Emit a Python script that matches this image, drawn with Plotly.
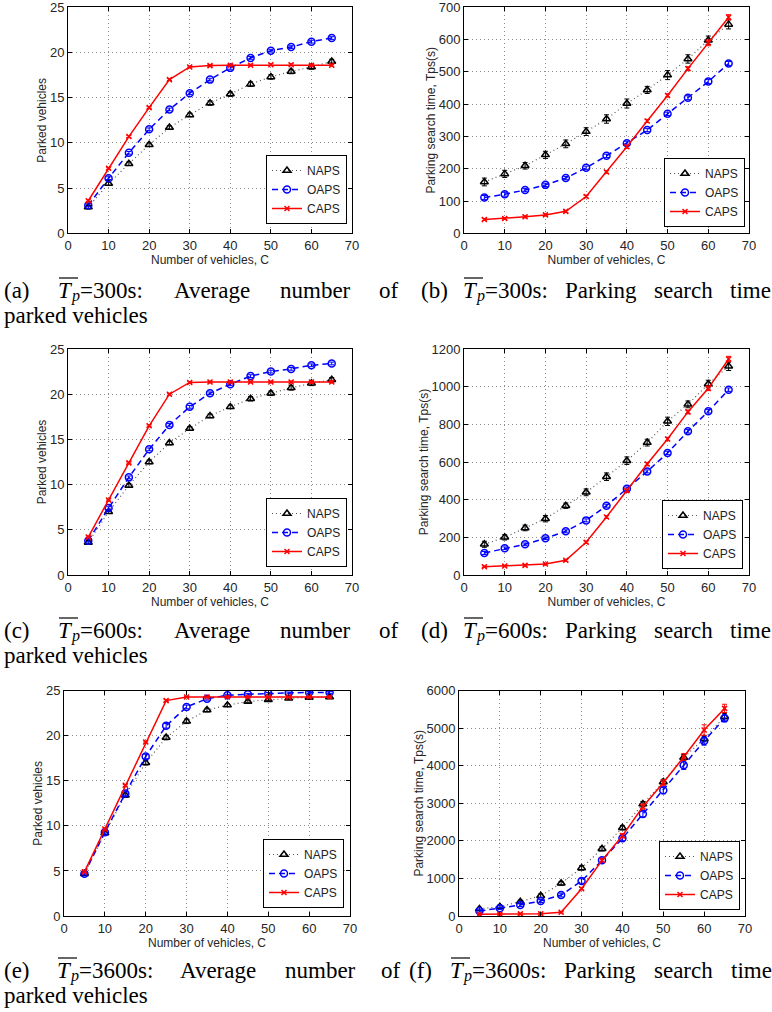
import plotly.graph_objects as go

# ---------------- data ----------------
C = [5, 10, 15, 20, 25, 30, 35, 40, 45, 50, 55, 60, 65]

a_naps = [2.9, 5.5, 7.7, 9.8, 11.7, 13.1, 14.4, 15.4, 16.5, 17.3, 17.9, 18.4, 19.0]
a_oaps = [3.1, 6.1, 8.9, 11.5, 13.7, 15.5, 17.0, 18.3, 19.4, 20.2, 20.6, 21.2, 21.6]
a_caps = [3.6, 7.2, 10.7, 13.9, 17.0, 18.4, 18.55, 18.6, 18.6, 18.65, 18.65, 18.6, 18.6]
a_naps_err = [0.2, 0.2, 0.2, 0.2, 0.2, 0.2, 0.25, 0.25, 0.25, 0.25, 0.25, 0.25, 0.25]
a_oaps_err = [0.15, 0.15, 0.15, 0.15, 0.15, 0.15, 0.15, 0.15, 0.15, 0.15, 0.15, 0.15, 0.15]
a_caps_err = [0.1, 0.1, 0.1, 0.1, 0.1, 0.1, 0.1, 0.1, 0.1, 0.1, 0.1, 0.1, 0.1]

b_naps = [159, 184, 209, 243, 277, 315, 354, 402, 444, 490, 540, 598, 647]
b_oaps = [111, 121, 134, 150, 171, 203, 240, 279, 320, 370, 420, 470, 526]
b_caps = [43, 46, 51, 57, 68, 114, 190, 268, 348, 427, 510, 590, 669]
b_naps_err = [12, 11, 10, 11, 12, 12, 13, 14, 11, 14, 13, 13, 14]
b_oaps_err = [6, 6, 5, 5, 5, 5, 5, 6, 5, 5, 6, 6, 6]
b_caps_err = [3, 3, 3, 3, 3, 4, 4, 5, 5, 5, 6, 9, 8]

c_naps = [3.6, 7.0, 9.9, 12.5, 14.6, 16.2, 17.6, 18.6, 19.5, 20.1, 20.7, 21.2, 21.6]
c_oaps = [3.8, 7.4, 10.8, 13.9, 16.6, 18.6, 20.1, 21.1, 22.0, 22.5, 22.8, 23.2, 23.4]
c_caps = [4.2, 8.3, 12.4, 16.5, 20.0, 21.3, 21.35, 21.35, 21.35, 21.35, 21.35, 21.35, 21.35]
c_naps_err = [0.2, 0.2, 0.2, 0.2, 0.2, 0.2, 0.2, 0.2, 0.25, 0.25, 0.25, 0.25, 0.25]
c_oaps_err = [0.15, 0.15, 0.15, 0.15, 0.15, 0.15, 0.15, 0.15, 0.15, 0.15, 0.15, 0.15, 0.15]
c_caps_err = [0.1, 0.1, 0.1, 0.1, 0.1, 0.1, 0.1, 0.1, 0.1, 0.1, 0.1, 0.1, 0.1]

d_naps = [163, 200, 250, 299, 368, 439, 522, 607, 703, 816, 906, 1014, 1108]
d_oaps = [117, 142, 163, 195, 232, 290, 368, 458, 550, 648, 763, 869, 984]
d_caps = [44, 48, 51, 58, 78, 174, 308, 448, 589, 722, 866, 991, 1147]
d_naps_err = [16, 14, 15, 17, 14, 18, 20, 20, 18, 22, 18, 20, 22]
d_oaps_err = [8, 7, 7, 7, 8, 8, 8, 9, 8, 9, 9, 9, 9]
d_caps_err = [4, 4, 4, 4, 5, 6, 7, 8, 9, 9, 10, 12, 14]

e_naps = [4.7, 9.2, 13.4, 17.0, 19.8, 21.6, 22.85, 23.4, 23.8, 24.0, 24.15, 24.25, 24.3]
e_oaps = [4.7, 9.3, 13.6, 17.7, 21.1, 23.2, 24.1, 24.5, 24.6, 24.7, 24.75, 24.8, 24.8]
e_caps = [4.9, 9.65, 14.5, 19.3, 23.9, 24.3, 24.3, 24.3, 24.3, 24.3, 24.3, 24.3, 24.3]
e_naps_err = [0.15, 0.2, 0.25, 0.25, 0.25, 0.25, 0.2, 0.15, 0.15, 0.1, 0.1, 0.1, 0.1]
e_oaps_err = [0.15, 0.2, 0.25, 0.25, 0.25, 0.2, 0.15, 0.1, 0.1, 0.1, 0.1, 0.1, 0.1]
e_caps_err = [0.1, 0.1, 0.1, 0.1, 0.1, 0.05, 0.05, 0.05, 0.05, 0.05, 0.05, 0.05, 0.05]

f_naps = [190, 250, 380, 540, 870, 1280, 1790, 2350, 2980, 3570, 4220, 4720, 5310]
f_oaps = [133, 204, 293, 400, 559, 932, 1482, 2068, 2716, 3346, 4012, 4660, 5263]
f_caps = [44, 50, 56, 62, 98, 728, 1482, 2139, 2911, 3550, 4234, 4952, 5529]
f_naps_err = [40, 40, 40, 50, 50, 60, 60, 60, 70, 70, 80, 80, 90]
f_oaps_err = [30, 30, 40, 40, 50, 60, 60, 70, 80, 90, 110, 110, 90]
f_caps_err = [20, 20, 20, 20, 20, 30, 40, 60, 70, 80, 90, 140, 110]

series_names = ["NAPS", "OAPS", "CAPS"]

x_ticks = [0, 10, 20, 30, 40, 50, 60, 70]

# ---------------- layout helpers ----------------
W, H = 772, 1012


def px(x):
    return x / W


def py(y):
    return 1 - y / H


panels = [
    dict(k="a", ys=[a_naps, a_oaps, a_caps], es=[a_naps_err, a_oaps_err, a_caps_err],
         xd=(68, 352), yd=(7.3, 233.3), yr=[0, 25], dt=5, yt="Parked vehicles",
         leg=(347, 224)),
    dict(k="b", ys=[b_naps, b_oaps, b_caps], es=[b_naps_err, b_oaps_err, b_caps_err],
         xd=(464, 749), yd=(7.3, 233.3), yr=[0, 700], dt=100,
         yt="Parking search time, Tps(s)", leg=(745, 227)),
    dict(k="c", ys=[c_naps, c_oaps, c_caps], es=[c_naps_err, c_oaps_err, c_caps_err],
         xd=(68, 352), yd=(349, 575), yr=[0, 25], dt=5, yt="Parked vehicles",
         leg=(347, 567)),
    dict(k="d", ys=[d_naps, d_oaps, d_caps], es=[d_naps_err, d_oaps_err, d_caps_err],
         xd=(464, 749), yd=(349, 575), yr=[0, 1200], dt=200,
         yt="Parking search time, Tps(s)", leg=(743, 569)),
    dict(k="e", ys=[e_naps, e_oaps, e_caps], es=[e_naps_err, e_oaps_err, e_caps_err],
         xd=(64, 350), yd=(690.7, 916), yr=[0, 25], dt=5, yt="Parked vehicles",
         leg=(344, 908)),
    dict(k="f", ys=[f_naps, f_oaps, f_caps], es=[f_naps_err, f_oaps_err, f_caps_err],
         xd=(459, 745), yd=(690.7, 916), yr=[0, 6000], dt=1000,
         yt="Parking search time, Tps(s)", leg=(740, 910)),
]

styles = [
    dict(lc="#555555", dash="1px,3px", lw=1.2, mc="black", sym="triangle-up-open", ms=7),
    dict(lc="#0000ff", dash="6px,4px", lw=1.5, mc="#0000ff", sym="circle-open", ms=7),
    dict(lc="#ff0000", dash="solid", lw=1.5, mc="#ff0000", sym="x-thin-open", ms=5),
]

SANS = "Liberation Sans, Arial, sans-serif"
SERIF = "Liberation Serif, Times New Roman, serif"

fig = go.Figure()
layout = dict(
    width=W, height=H, margin=dict(l=0, r=0, t=0, b=0),
    paper_bgcolor="white", plot_bgcolor="white", showlegend=True,
    font=dict(family=SANS, size=13, color="#222222"),
)

axis_common = dict(
    showline=True, linecolor="black", linewidth=1, mirror="ticks",
    ticks="inside", ticklen=4, tickcolor="black",
    showgrid=True, gridcolor="#8c8c8c", griddash="1px,3px", gridwidth=1,
    zeroline=False, automargin=False, ticklabeloverflow="allow",
    tickfont=dict(family=SANS, size=13, color="#262626"),
)

for i, p in enumerate(panels):
    n = "" if i == 0 else str(i + 1)
    xa, ya = "x" + n, "y" + n
    legname = "legend" + n
    for j in range(3):
        s = styles[j]
        fig.add_trace(go.Scatter(
            x=C, y=p["ys"][j], name=series_names[j], mode="lines+markers",
            xaxis=xa, yaxis=ya, legend=legname,
            line=dict(color=s["lc"], width=s["lw"], dash=s["dash"]),
            marker=dict(symbol=s["sym"], size=s["ms"], color=s["mc"],
                        line=dict(color=s["mc"], width=1.5)),
            error_y=dict(type="data", array=p["es"][j], visible=True,
                         color=s["mc"], thickness=1, width=2.5),
        ))
    layout["xaxis" + n] = dict(
        axis_common, domain=[px(p["xd"][0]), px(p["xd"][1])], range=[0, 70],
        tickvals=x_ticks, anchor=ya,
        title=dict(text="Number of vehicles, C", standoff=1,
                   font=dict(family=SANS, size=12, color="#262626")),
    )
    layout["yaxis" + n] = dict(
        axis_common, domain=[py(p["yd"][1]), py(p["yd"][0])], range=p["yr"],
        dtick=p["dt"], anchor=xa,
        title=dict(text=p["yt"], standoff=0,
                   font=dict(family=SANS, size=12, color="#262626")),
    )
    layout[legname] = dict(
        x=px(p["leg"][0]), y=py(p["leg"][1]), xanchor="right", yanchor="bottom",
        bgcolor="white", bordercolor="black", borderwidth=1,
        font=dict(family=SANS, size=12, color="#222222"),
        itemwidth=30, tracegroupgap=0,
    )

# ---------------- captions ----------------
# "TP" marks the overlined mean symbol T_p, drawn as italic T + small italic p + overline
captions = [
    # (words, x positions, y)
    (["(a)", "TP=300s:", "Average", "number", "of"], [2, 56, 172, 278, 377], 290),
    (["parked vehicles"], [2], 315),
    (["(b)", "TP=300s:", "Parking", "search", "time"], [419, 461, 563, 652, 728], 290),
    (["(c)", "TP=600s:", "Average", "number", "of"], [2, 56, 172, 278, 377], 630),
    (["parked vehicles"], [2], 655),
    (["(d)", "TP=600s:", "Parking", "search", "time"], [419, 461, 563, 652, 728], 630),
    (["(e)", "TP=3600s:", "Average", "number", "of"], [2, 55, 178, 283, 379], 970),
    (["parked vehicles"], [2], 995),
    (["(f)", "TP=3600s:", "Parking", "search", "time"], [407, 448, 562, 652, 729], 970),
]

annotations = []
shapes = []


def cap_text(text, x, y, size=23):
    annotations.append(dict(
        text=text, x=px(x), y=py(y), xref="paper", yref="paper",
        xanchor="left", yanchor="middle", showarrow=False,
        font=dict(family=SERIF, size=size, color="black"),
    ))


for words, xs, y in captions:
    for w, x in zip(words, xs):
        if w.startswith("TP"):
            cap_text("<i>T</i>", x, y)
            cap_text("<i>p</i>", x + 13, y + 6, size=16)
            cap_text(w[2:], x + 22, y)
            shapes.append(dict(type="line", xref="paper", yref="paper",
                               x0=px(x + 3), x1=px(x + 22), y0=py(y - 12), y1=py(y - 12),
                               line=dict(color="black", width=1.2)))
        else:
            cap_text(w, x, y)

layout["annotations"] = annotations
layout["shapes"] = shapes

fig.update_layout(**layout)
fig.write_html("out.html")
